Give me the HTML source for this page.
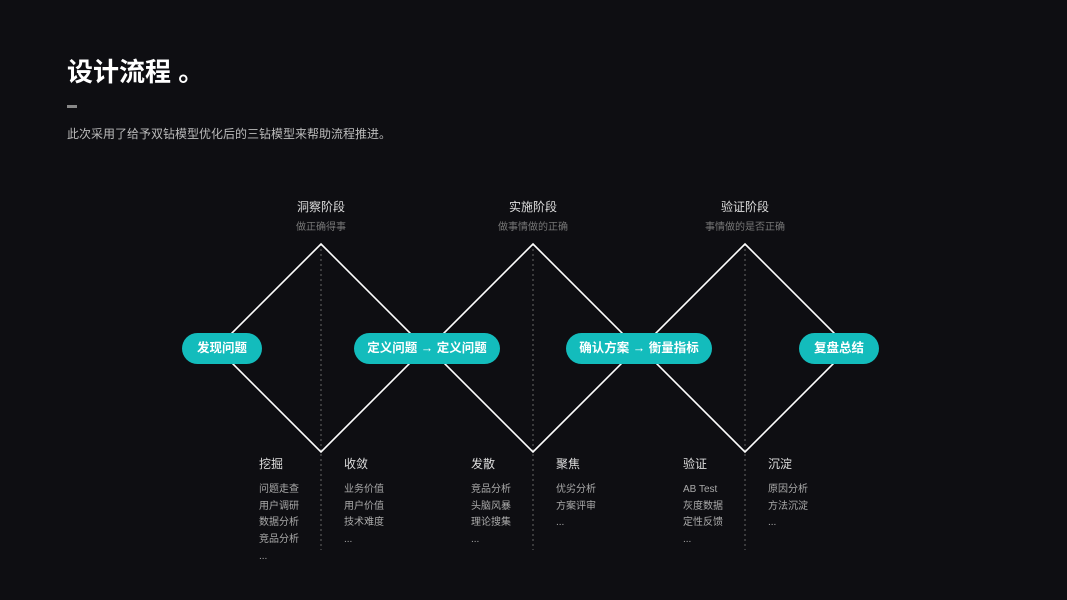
<!DOCTYPE html>
<html><head><meta charset="utf-8"><style>
body{margin:0;width:1067px;height:600px;background:#0e0e12;overflow:hidden;position:relative;font-family:"Liberation Sans","Noto Sans CJK SC",sans-serif;color:#fff}
.a{position:absolute;white-space:nowrap}
.t{left:67px;top:52px;font-size:26px;font-weight:bold;color:#fff}
.bar{left:67px;top:105px;width:10px;height:3px;background:#888}
.sub{left:67px;top:125px;font-size:12px;color:#bbb}
.h{font-size:12px;color:#ddd;transform:translateX(-50%)}
.s{font-size:10px;color:#777;transform:translateX(-50%)}
.pill{height:31px;top:333px;border-radius:16px;background:#13bcbc;color:#fff;font-size:12.5px;font-weight:bold;line-height:31px;text-align:center}
.ch{font-size:12px;color:#ddd;top:455px}
.it{font-size:10px;color:#aaa;top:482px;line-height:16.7px}
</style></head><body>
<div class="a t">设计流程 。</div>
<div class="a bar"></div>
<div class="a sub">此次采用了给予双钻模型优化后的三钻模型来帮助流程推进。</div>
<svg class="a" style="left:0;top:0" width="1067" height="600">
<g stroke="#666" stroke-dasharray="2,3" stroke-width="1">
<line x1="321" y1="244" x2="321" y2="550"/><line x1="533" y1="244" x2="533" y2="550"/><line x1="745" y1="244" x2="745" y2="550"/>
</g>
<g fill="none" stroke="#fff" stroke-width="1.6">
<polygon points="321,244 425,348 321,452 217,348"/>
<polygon points="533,244 637,348 533,452 429,348"/>
<polygon points="745,244 849,348 745,452 641,348"/>
</g>
</svg>
<div class="a h" style="left:321px;top:198px">洞察阶段</div><div class="a s" style="left:321px;top:218px">做正确得事</div>
<div class="a h" style="left:533px;top:198px">实施阶段</div><div class="a s" style="left:533px;top:218px">做事情做的正确</div>
<div class="a h" style="left:745px;top:198px">验证阶段</div><div class="a s" style="left:745px;top:218px">事情做的是否正确</div>
<div class="a pill" style="left:182px;width:80px">发现问题</div>
<div class="a pill" style="left:354px;width:146px">定义问题 → 定义问题</div>
<div class="a pill" style="left:566px;width:146px">确认方案 → 衡量指标</div>
<div class="a pill" style="left:799px;width:80px">复盘总结</div>
<div class="a ch" style="left:259px">挖掘</div><div class="a it" style="left:259px">问题走查<br>用户调研<br>数据分析<br>竞品分析<br>...</div>
<div class="a ch" style="left:344px">收敛</div><div class="a it" style="left:344px">业务价值<br>用户价值<br>技术难度<br>...</div>
<div class="a ch" style="left:471px">发散</div><div class="a it" style="left:471px">竞品分析<br>头脑风暴<br>理论搜集<br>...</div>
<div class="a ch" style="left:556px">聚焦</div><div class="a it" style="left:556px">优劣分析<br>方案评审<br>...</div>
<div class="a ch" style="left:683px">验证</div><div class="a it" style="left:683px">AB Test<br>灰度数据<br>定性反馈<br>...</div>
<div class="a ch" style="left:768px">沉淀</div><div class="a it" style="left:768px">原因分析<br>方法沉淀<br>...</div>
</body></html>
